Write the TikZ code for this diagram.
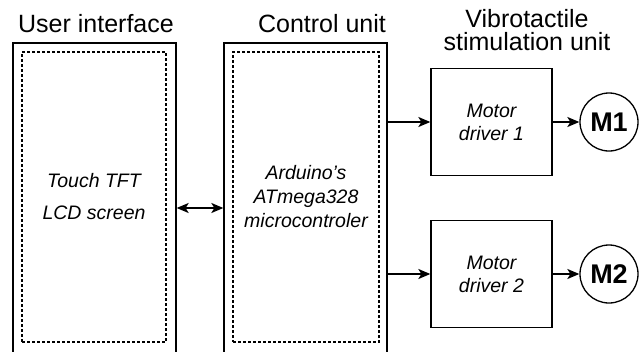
\documentclass[tikz,border=0pt]{standalone}
\usepackage{fontspec}
\setmainfont{Liberation Sans}
\usetikzlibrary{arrows.meta}

\begin{document}
\begin{tikzpicture}[x=1pt,y=-1pt,
    outer/.style={draw,line width=1.3pt,minimum width=163pt,minimum height=330pt,inner sep=0pt},
    inner/.style={draw,line width=1.3pt,dash pattern=on 3pt off 2pt,minimum height=290pt,
      inner sep=0pt,align=center,font=\fontsize{19.5}{24}\selectfont\itshape},
    drvbox/.style={draw,line width=1.3pt,minimum width=121pt,minimum height=107pt,inner sep=0pt,
      align=center,font=\fontsize{19.5}{23}\selectfont\itshape},
    motor/.style={draw,circle,line width=1.3pt,minimum size=58pt,inner sep=0pt,
      font=\fontsize{27}{27}\selectfont\bfseries},
    head/.style={align=center,font=\fontsize{25}{23}\selectfont},
    arr/.style={line width=1.6pt,-{Stealth[length=12pt,width=10pt,inset=3pt]}}]
  \clip (0,0) rectangle (643,351);
  % units
  \node[outer] (ui) at (94.5,208) {};
  \node[outer] (cu) at (305.5,208) {};
  \node[inner,minimum width=144pt] (uiin) at (94,197) {Touch TFT\\[8pt]LCD screen};
  \node[inner,minimum width=146pt] (cuin) at (306,197) {Arduino's\\ATmega328\\microcontroler};
  \node[head,anchor=base] (uit) at (96,32) {User interface};
  \node[head,anchor=base] (cut) at (322,32) {Control unit};
  \node[head,anchor=base] (vst) at (527,50) {Vibrotactile\\stimulation unit};
  \draw[line width=1.6pt,{Stealth[length=12pt,width=10pt,inset=3pt]}-{Stealth[length=12pt,width=10pt,inset=3pt]}]
    (ui.east) -- (cu.west);
  % drivers and motors
  \foreach \i/\y in {1/122,2/274}{
    \node[drvbox] (drv\i) at (491.5,\y) {Motor\\driver \i};
    \node[motor] (m\i) at (609,\y) {M\i};
    \draw[arr] (cu.east |- drv\i.west) -- (drv\i.west);
    \draw[arr] (drv\i.east) -- (m\i.west);
  }
\end{tikzpicture}
\end{document}
